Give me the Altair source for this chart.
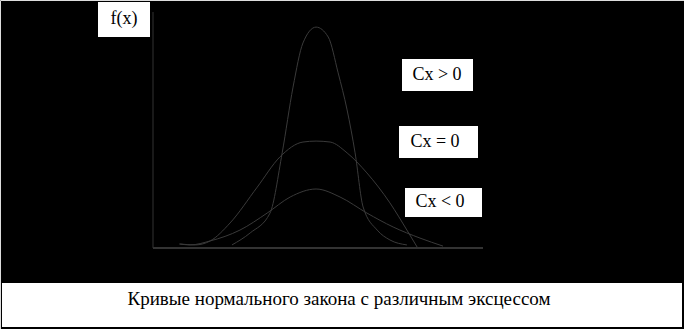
import altair as alt
import pandas as pd

# Curve samples (x in standard units around the mode, y as relative density)
peak_x = [-2.63, -2.06, -1.44, -1.06, -0.72, -0.41, 0.0, 0.38, 0.69, 0.97, 1.22, 1.47, 1.91, 2.31, 2.84]
peak_y = [0.013, 0.064, 0.148, 0.403, 0.682, 0.869, 0.936, 0.894, 0.742, 0.585, 0.403, 0.174, 0.076, 0.034, 0.013]

norm_x = [-4.25, -3.78, -3.31, -2.69, -1.84, -1.13, -0.41, 0.0, 0.44, 0.97, 1.59, 2.31, 2.84, 3.16]
norm_y = [0.017, 0.013, 0.030, 0.106, 0.258, 0.386, 0.449, 0.453, 0.449, 0.403, 0.318, 0.191, 0.076, 0.004]

flat_x = [-4.28, -3.94, -3.31, -2.38, -1.53, -0.81, 0.0, 0.75, 1.59, 2.41, 3.25, 3.97]
flat_y = [0.017, 0.013, 0.030, 0.076, 0.148, 0.216, 0.250, 0.216, 0.148, 0.089, 0.042, 0.008]

series_names = ["Cx > 0", "Cx = 0", "Cx < 0"]
caption = "Кривые нормального закона с различным эксцессом"
y_label = "f(x)"

rows = []
for name, xs, ys in zip(series_names, [peak_x, norm_x, flat_x], [peak_y, norm_y, flat_y]):
    for i, (a, b) in enumerate(zip(xs, ys)):
        rows.append({"series": name, "order": i, "x": a, "y": b})
df = pd.DataFrame(rows)

W, H = 684, 329
xs = alt.Scale(domain=[-5.1, 5.22], range=[153, 483], nice=False, zero=False)
ys = alt.Scale(domain=[0, 1], range=[248, 12], nice=False, zero=False)
FONT = "Liberation Serif"
LINE = "#3a3a3a"
AXIS = "#333333"

curves = alt.Chart(df).mark_line(
    interpolate="monotone", strokeWidth=1, color=LINE
).encode(
    x=alt.X("x:Q", scale=xs, axis=None),
    y=alt.Y("y:Q", scale=ys, axis=None),
    detail="series:N",
    order="order:Q",
)

x_axis_df = pd.DataFrame([{"x": -5.1, "x2": 5.22, "y": 0.0}])
y_axis_df = pd.DataFrame([{"x": -5.1, "y": 0.0, "y2": 1.0}])
x_axis = alt.Chart(x_axis_df).mark_rule(color=AXIS, strokeWidth=2).encode(
    x=alt.X("x:Q", scale=xs, axis=None),
    x2="x2:Q",
    y=alt.Y("y:Q", scale=ys, axis=None),
)
y_axis = alt.Chart(y_axis_df).mark_rule(color=AXIS, strokeWidth=1).encode(
    x=alt.X("x:Q", scale=xs, axis=None),
    y=alt.Y("y:Q", scale=ys, axis=None),
    y2="y2:Q",
)

# Label boxes: [x0, x1, y0, y1, text x, text y, font size, text]
boxes = [
    (98, 150, 2, 37, 124, 19, 18, y_label),
    (402, 473, 59, 91, 437, 75, 18, series_names[0]),
    (399, 478, 126, 158, 435, 142, 18, series_names[1]),
    (405, 482, 188, 217, 440, 202, 18, series_names[2]),
    (2, 682, 283, 327, 339, 299, 19, caption),
]

layers = [x_axis, y_axis, curves]
for x0, x1, y0, y1, tx, ty, fs, label in boxes:
    layers.append(
        alt.Chart(pd.DataFrame({"t": [label]})).mark_rect(color="white").encode(
            x=alt.value(x0), x2=alt.value(x1), y=alt.value(y0), y2=alt.value(y1)
        )
    )
    layers.append(
        alt.Chart(pd.DataFrame({"t": [label]})).mark_text(
            fontSize=fs, color="black", align="center", baseline="middle"
        ).encode(x=alt.value(tx), y=alt.value(ty), text="t:N")
    )

chart = alt.layer(*layers).properties(
    width=W, height=H, padding=0, autosize="none", background="black"
).configure_view(stroke=None).configure_text(font=FONT).configure(font=FONT)

chart.save("out.html", embed_options={"renderer": "svg", "actions": False})
